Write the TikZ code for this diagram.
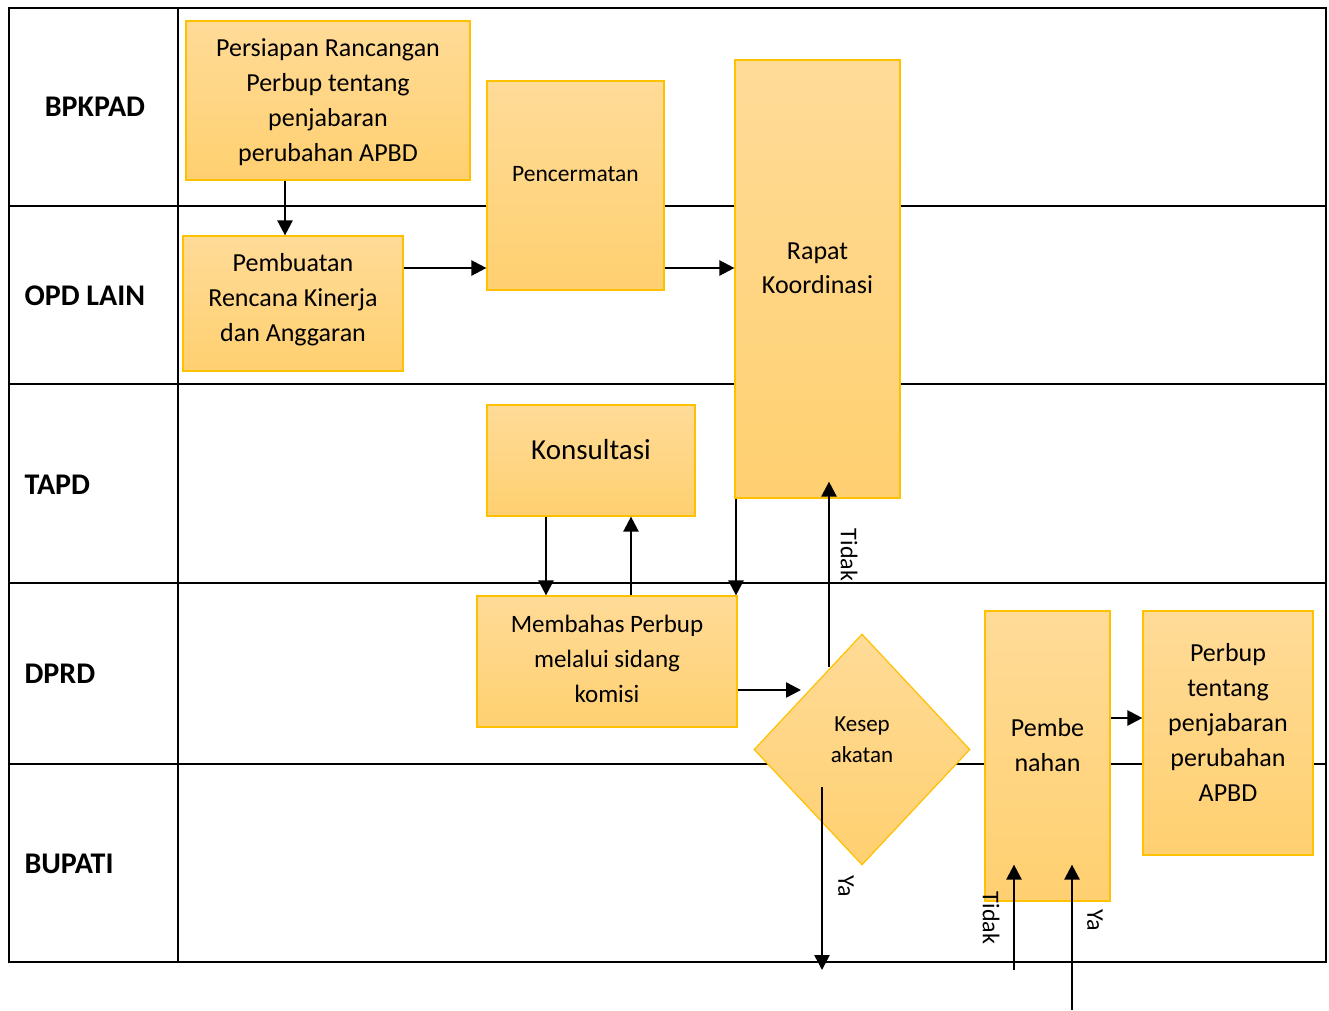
\documentclass[tikz,border=0pt]{standalone}
\usepackage{fontspec}
\setmainfont{Carlito}
\usetikzlibrary{arrows.meta,shapes.geometric}
\definecolor{boxtop}{RGB}{255,219,152}
\definecolor{boxbot}{RGB}{255,208,112}
\definecolor{boxline}{RGB}{255,192,0}
\begin{document}
\begin{tikzpicture}[x=1pt,y=-1pt,
  stepbox/.style={draw=boxline, line width=1.2pt, top color=boxtop, bottom color=boxbot, inner sep=0pt},
  decision/.style={stepbox, diamond},
  txt/.style={align=center, font=\fontsize{26}{35}\selectfont},
  grid/.style={line width=1.9pt},
  flow/.style={line width=2.5pt, -{Triangle[length=15pt,width=15pt]}},
  lane/.style={font=\fontsize{30}{32}\selectfont\bfseries, anchor=west},
  note/.style={font=\fontsize{24}{26}\selectfont, rotate=-90}]
\useasboundingbox (0,0) rectangle (1329,1010);

% swimlane table
\draw[grid] (9,8) rectangle (1326,962);
\draw[grid] (178,8) -- (178,962);
\foreach \y in {206,384,583,764} \draw[grid] (9,\y) -- (1326,\y);

% lane titles
\node[lane, anchor=center] (lbpkpad) at (95,107) {BPKPAD};
\node[lane] (lopd)   at (21,296) {OPD LAIN};
\node[lane] (ltapd)  at (21,485) {TAPD};
\node[lane] (ldprd)  at (21,674) {DPRD};
\node[lane] (lbupati) at (21,864) {BUPATI};

% process boxes
\node[stepbox, minimum width=284pt, minimum height=159pt] (prep) at (328,100.5) {};
\node[txt] at (328,102) {Persiapan Rancangan\\Perbup tentang\\penjabaran\\perubahan APBD};

\node[stepbox, minimum width=220pt, minimum height=135pt] (plan) at (293,303.5) {};
\node[txt] at (293,300) {Pembuatan\\Rencana Kinerja\\dan Anggaran};

\node[stepbox, minimum width=177pt, minimum height=209pt] (cerm) at (575.5,185.5) {};
\node[txt, font=\fontsize{23.5}{30}\selectfont] at (575.5,174) {Pencermatan};

\node[stepbox, minimum width=165pt, minimum height=438pt] (rapat) at (817.5,279) {};
\node[txt, font=\fontsize{26}{34}\selectfont] at (817.5,268) {Rapat\\Koordinasi};

\node[stepbox, minimum width=208pt, minimum height=111pt] (kons) at (591,460.5) {};
\node[txt, font=\fontsize{29}{34}\selectfont] at (591,450) {Konsultasi};

\node[stepbox, minimum width=260pt, minimum height=131pt] (bahas) at (607,661.5) {};
\node[txt, font=\fontsize{25}{35}\selectfont] at (607,659) {Membahas Perbup\\melalui sidang\\komisi};

\node[decision, minimum width=216pt, minimum height=231pt] (sepakat) at (862,749.5) {};
\node[txt, font=\fontsize{23}{31}\selectfont] at (862,740) {Kesep\\akatan};

\node[stepbox, minimum width=125pt, minimum height=290pt] (benah) at (1047.5,756) {};
\node[txt] at (1047.5,745) {Pembe\\nahan};

\node[stepbox, minimum width=170pt, minimum height=244pt] (perbup) at (1228,733) {};
\node[txt] at (1228,722) {Perbup\\tentang\\penjabaran\\perubahan\\APBD};

% connectors
\draw[flow] ([xshift=-43pt]prep.south) -- ([xshift=-43pt]prep.south |- plan.north);
\draw[flow] ([yshift=35.5pt]plan.east) -- ([yshift=35.5pt]plan.east -| cerm.west);
\draw[flow] ([yshift=-82.5pt]cerm.east) -- ([yshift=-82.5pt]cerm.east -| rapat.west);
\draw[flow] ([xshift=-45pt]kons.south) -- ([xshift=-45pt]kons.south |- bahas.north);
\draw[flow] ([xshift=24pt]bahas.north) -- ([xshift=24pt]bahas.north |- kons.south);
\draw[flow] ([xshift=-81.5pt]rapat.south) -- ([xshift=-81.5pt]rapat.south |- bahas.north);

\coordinate (toDecide) at (801,690);
\draw[flow] ([yshift=-28.5pt]bahas.east) -- (toDecide);

\coordinate (noStart) at (829,667);
\draw[flow] (noStart) -- ([yshift=17pt]rapat.south -| noStart);
\node[note] (noLbl) at (849,555) {Tidak};

\coordinate (yesStart) at (822,787);
\coordinate (yesEnd) at (822,970);
\draw[flow] (yesStart) -- (yesEnd);
\node[note] (yesLbl) at (846,886) {Ya};

\draw[flow] ([yshift=38pt]benah.east) -- ([yshift=38pt]benah.east -| perbup.west);

\coordinate (backNo) at (1014,970);
\draw[flow] (backNo) -- ([yshift=37pt]benah.south -| backNo);
\node[note] (backNoLbl) at (991,918) {Tidak};

\coordinate (backYes) at (1072,1010);
\draw[flow] (backYes) -- ([yshift=37pt]benah.south -| backYes);
\node[note] (backYesLbl) at (1095,920) {Ya};
\end{tikzpicture}
\end{document}
